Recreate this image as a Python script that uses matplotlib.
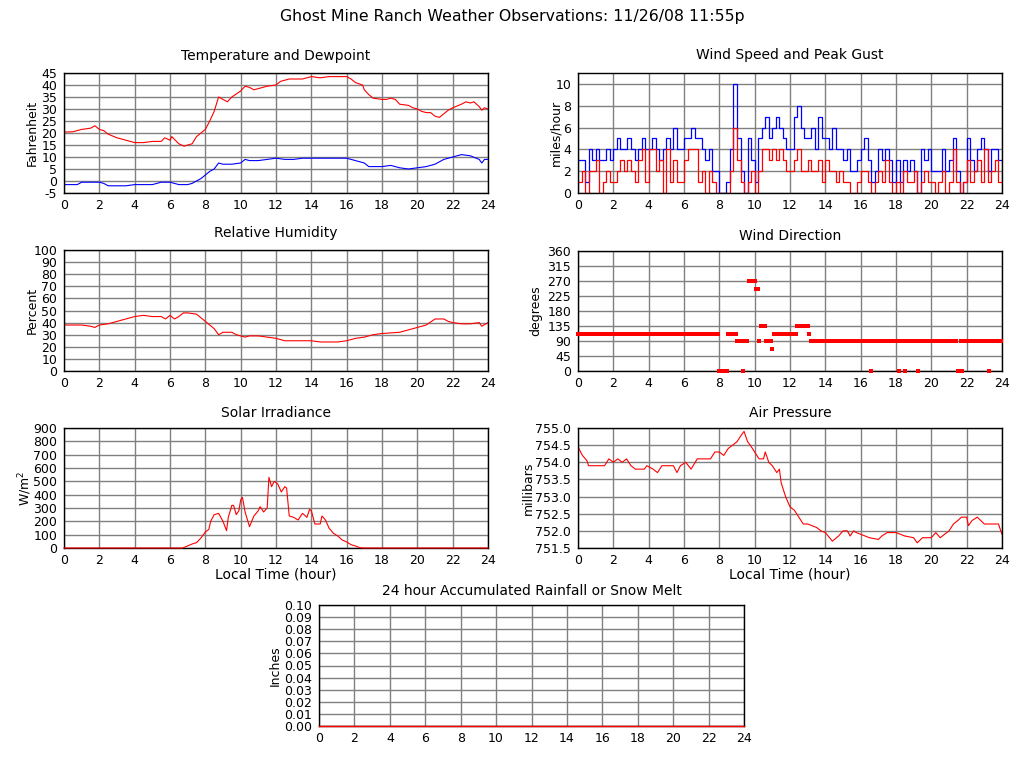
import matplotlib
matplotlib.use("Agg")
import matplotlib.pyplot as plt
import numpy as np

# --- values (hours 0-24) ---
temp_t = [0, 0.5, 1.0, 1.5, 1.75, 2.0, 2.25, 2.5, 3.0, 3.5, 4.0, 4.5, 5.0, 5.5, 5.7,
          6.0, 6.1, 6.5, 6.8, 7.0, 7.25, 7.5, 8.0, 8.25, 8.5, 8.75, 9.0, 9.25, 9.5, 10.0,
          10.25, 10.5, 10.75, 11.0, 11.5, 12.0, 12.25, 12.75, 13.0, 13.5, 14.0, 14.5, 15.0,
          15.5, 16.0, 16.25, 16.5, 16.9, 17.0, 17.25, 17.5, 18.0, 18.25, 18.5, 18.75, 19.0,
          19.5, 19.75, 20.0, 20.25, 20.5, 20.75, 21.0, 21.25, 21.5, 21.75, 22.0, 22.5, 22.75,
          23.0, 23.2, 23.5, 23.65, 23.8, 24.0]
temp_f = [20.4, 20.5, 21.5, 22, 23, 21.5, 21, 19.5, 18, 17, 16, 16, 16.5, 16.5, 18,
          17, 18.5, 15.5, 14.5, 15, 15.5, 18.5, 21.5, 25, 29, 35, 34, 33, 35, 37.5,
          39.5, 39, 38, 38.5, 39.5, 40, 41.5, 42.5, 42.5, 42.5, 43.5, 43, 43.5,
          43.5, 43.5, 42.5, 41, 40, 38, 36, 34.5, 34, 34, 34.5, 34, 32,
          31.5, 30.5, 30, 29, 28.5, 28.5, 27, 26.5, 28, 29.5, 30.5, 32, 33,
          32.5, 33, 31, 29.5, 30.5, 30]

dew_t = [0, 0.75, 1.0, 1.5, 2.0, 2.25, 2.5, 3.0, 3.5, 4.0, 4.5, 5.0, 5.5, 6.0, 6.25,
         6.5, 7.0, 7.25, 7.5, 7.75, 8.0, 8.25, 8.5, 8.75, 9.0, 9.5, 10.0, 10.25, 10.5,
         11.0, 11.5, 12.0, 12.5, 13.0, 13.5, 14.0, 15.0, 16.0, 16.5, 17.0, 17.25, 17.5,
         18.0, 18.5, 19.0, 19.5, 20.0, 20.5, 21.0, 21.5, 22.0, 22.5, 23.0, 23.5, 23.65,
         23.8, 24.0]
dew_f = [-1.5, -1.5, -0.5, -0.5, -0.5, -1, -2, -2, -2, -1.5, -1.5, -1.5, -0.5, -0.5, -1,
         -1.5, -1.5, -1, 0, 1, 2.5, 4, 5, 7.5, 7, 7, 7.5, 9, 8.5,
         8.5, 9, 9.5, 9, 9, 9.5, 9.5, 9.5, 9.5, 8.5, 7.5, 6, 6,
         6, 6.5, 5.5, 5, 5.5, 6, 7, 9, 10, 11, 10.5, 9, 7.5,
         9, 9]

# wind sampled every 0.2 h
wind_t = np.arange(0, 24.01, 0.2)
gust_mph = [3, 3, 1, 4, 3, 4, 3, 3, 4, 3,
            4, 5, 4, 4, 5, 4, 3, 4, 5, 4,
            4, 5, 4, 3, 4, 5, 4, 6, 4, 4,
            5, 5, 6, 5, 5, 4, 3, 4, 2, 2,
            0, 0, 1, 4, 10, 5, 2, 0, 5, 3,
            1, 5, 6, 7, 5, 6, 7, 6, 5, 4,
            4, 7, 8, 6, 5, 5, 6, 4, 7, 5,
            5, 4, 6, 4, 4, 3, 4, 2, 2, 3,
            4, 5, 3, 1, 2, 4, 3, 4, 3, 1,
            3, 1, 3, 2, 3, 2, 0, 4, 3, 4,
            2, 2, 2, 4, 2, 3, 5, 2, 0, 1,
            5, 3, 2, 4, 5, 4, 2, 4, 4, 3, 3]
speed_mph = [1, 2, 0, 2, 2, 3, 0, 1, 2, 1,
             1, 2, 3, 2, 3, 2, 1, 3, 4, 1,
             4, 4, 2, 3, 0, 4, 1, 3, 1, 1,
             3, 4, 4, 4, 1, 2, 0, 2, 1, 0,
             0, 0, 0, 2, 6, 3, 1, 0, 1, 2,
             0, 2, 4, 4, 3, 4, 3, 4, 3, 2,
             2, 3, 4, 2, 2, 3, 2, 2, 3, 1,
             3, 2, 2, 1, 2, 1, 1, 0, 0, 1,
             2, 2, 1, 0, 1, 2, 1, 3, 1, 0,
             1, 0, 2, 1, 1, 2, 0, 1, 2, 1,
             1, 0, 1, 2, 0, 1, 4, 1, 0, 1,
             3, 1, 2, 3, 1, 4, 1, 2, 3, 1, 2]

hum_t = [0, 1.0, 1.5, 1.75, 2.0, 2.5, 3.0, 3.5, 4.0, 4.5, 5.0, 5.5, 5.75, 6.0, 6.25,
         6.5, 6.75, 7.0, 7.5, 7.75, 8.0, 8.5, 8.75, 9.0, 9.5, 9.75, 10.0, 10.25, 10.5,
         11.0, 11.5, 12.0, 12.5, 13.0, 14.0, 14.5, 15.0, 15.5, 16.0, 16.5, 17.0, 17.5,
         18.0, 19.0, 19.5, 20.0, 20.5, 21.0, 21.5, 21.75, 22.0, 22.5, 23.0, 23.5, 23.65, 24.0]
hum_pct = [38, 38, 37, 36, 38, 39, 41, 43, 45, 46, 45, 45, 43, 46, 43,
           45, 48, 48, 47, 44, 41, 35, 30, 32, 32, 30, 29, 28, 29,
           29, 28, 27, 25, 25, 25, 24, 24, 24, 25, 27, 28, 30,
           31, 32, 34, 36, 38, 43, 43, 41, 40, 39, 39, 40, 37, 40]

# wind direction as runs of constant heading (start h, end h, degrees)
dir_start = [0.0, 8.0, 8.45, 8.7, 8.75, 9.0, 9.3, 9.35, 9.6, 9.65, 10.05, 10.25, 10.3,
             10.45, 10.5, 10.6, 10.95, 11.05, 12.4, 13.05, 13.15]
dir_end = [8.0, 8.45, 8.7, 8.75, 9.0, 9.3, 9.35, 9.6, 9.65, 10.05, 10.25, 10.3, 10.45,
           10.5, 10.6, 10.95, 11.05, 12.4, 13.05, 13.15, 24.0]
dir_deg = [112.5, 0, 112.5, 135, 112.5, 90, 0, 90, 247.5, 270, 247.5, 90, 135,
           112.5, 135, 90, 67.5, 112.5, 135, 112.5, 90]
dir_calm_hours = [16.58, 18.17, 18.5, 19.25, 21.5, 21.58, 21.75, 23.25]

sol_t = [0, 6.7, 6.9, 7.25, 7.5, 7.75, 8.0, 8.2, 8.3, 8.5, 8.75, 9.0, 9.2, 9.3, 9.5,
         9.6, 9.75, 9.9, 10.0, 10.1, 10.25, 10.5, 10.75, 11.0, 11.1, 11.3, 11.5, 11.6,
         11.75, 11.9, 12.1, 12.3, 12.5, 12.6, 12.75, 13.0, 13.25, 13.5, 13.75, 13.9,
         14.0, 14.2, 14.5, 14.6, 14.8, 15.0, 15.25, 15.5, 15.75, 16.0, 16.25, 16.5,
         16.75, 17.0, 24.0]
sol_w = [0, 0, 10, 30, 40, 75, 120, 140, 200, 250, 260, 200, 130, 230, 320,
         320, 250, 280, 360, 380, 270, 160, 240, 280, 310, 270, 300, 530,
         460, 500, 480, 420, 460, 450, 240, 230, 210, 260, 230, 290,
         280, 180, 180, 240, 210, 150, 110, 90, 60, 45, 25, 15,
         2, 0, 0]

pres_t = [0, 0.25, 0.5, 0.6, 1.0, 1.5, 1.75, 2.0, 2.25, 2.5, 2.75, 3.0, 3.25, 3.75, 3.9,
          4.25, 4.5, 4.75, 5.4, 5.6, 5.8, 6.1, 6.4, 6.75, 7.5, 7.75, 8.0, 8.25, 8.5, 8.75,
          9.0, 9.25, 9.4, 9.6, 9.75, 10.0, 10.25, 10.5, 10.6, 10.8, 11.0, 11.25, 11.4,
          11.5, 11.75, 12.0, 12.25, 12.5, 12.75, 13.0, 13.5, 13.75, 14.0, 14.4, 14.75,
          15.0, 15.25, 15.4, 15.6, 15.75, 16.0, 16.5, 17.0, 17.2, 17.5, 18.0, 18.5, 19.0,
          19.2, 19.5, 20.0, 20.25, 20.5, 20.75, 21.0, 21.25, 21.5, 21.7, 22.0, 22.1,
          22.3, 22.6, 22.8, 23.0, 23.8, 24.0]
pres_mb = [754.45, 754.2, 754.05, 753.9, 753.9, 753.9, 754.1, 754.0, 754.1, 754.0, 754.1,
           753.9, 753.8, 753.8, 753.9, 753.8, 753.7, 753.9, 753.9, 753.7, 753.9, 754.0,
           753.8, 754.1, 754.1, 754.3, 754.3, 754.2, 754.4, 754.5, 754.6, 754.8, 754.9,
           754.6, 754.5, 754.3, 754.1, 754.1, 754.3, 754.0, 753.9, 753.7, 753.8, 753.4,
           753.0, 752.7, 752.6, 752.4, 752.2, 752.2, 752.1, 752.0, 751.95, 751.7, 751.85,
           752.0, 752.0, 751.85, 752.0, 751.95, 751.9, 751.8, 751.75, 751.85, 751.95,
           751.95, 751.85, 751.8, 751.65, 751.8, 751.8, 751.95, 751.8, 751.9, 752.0,
           752.2, 752.3, 752.4, 752.4, 752.15, 752.3, 752.4, 752.3, 752.2, 752.2, 751.9]

rain_t = [0, 24]
rain_in = [0.0, 0.0]

hour_ticks = list(range(0, 25, 2))

# --- figure ---
W, H = 1024, 768
fig = plt.figure(figsize=(W / 100, H / 100), dpi=100)
plt.rcParams['font.family'] = 'DejaVu Sans'

TICK_FS = 9
TITLE_FS = 10
RED = '#ff0000'
BLUE = '#0000ff'


def panel(l, t, r, b, title, ylabel, label_x, yticks, ylim, fmt, title_base):
    ax = fig.add_axes([l / W, 1 - b / H, (r - l) / W, (b - t) / H])
    ax.set_xlim(0, 24)
    ax.set_ylim(*ylim)
    ax.set_xticks(hour_ticks)
    ax.set_yticks(yticks)
    ax.set_yticklabels([fmt.format(v) for v in yticks])
    ax.tick_params(length=0, labelsize=TICK_FS)
    ax.tick_params(axis='y', pad=5)
    ax.tick_params(axis='x', pad=4)
    ax.grid(True, color='#808080', linewidth=1.0)
    ax.set_axisbelow(True)
    for s in ax.spines.values():
        s.set_linewidth(1.0)
        s.set_color('black')
    fig.text((l + r) / 2 / W, 1 - title_base / H, title, ha='center', va='baseline',
             fontsize=TITLE_FS)
    fig.text(label_x / W, 1 - (t + b) / 2 / H, ylabel, rotation=90, ha='center',
             va='center', fontsize=9)
    return ax


fig.text(0.5, 1 - 17 / H, "Ghost Mine Ranch Weather Observations: 11/26/08 11:55p",
         ha='center', va='center', fontsize=11.3)

# Temperature and dewpoint
ax = panel(64, 73, 488, 193, "Temperature and Dewpoint", "Fahrenheit", 32,
           list(range(-5, 46, 5)), (-5, 45), "{:d}", 60)
ax.plot(temp_t, temp_f, color=RED, lw=0.8)
ax.plot(dew_t, dew_f, color=BLUE, lw=0.8)

# Wind speed and gust (stepped, as logged)
ax = panel(578, 73, 1002, 193, "Wind Speed and Peak Gust", "miles/hour", 556,
           list(range(0, 11, 2)), (0, 11), "{:d}", 59)
ax.plot(wind_t, gust_mph, color=BLUE, lw=0.9, drawstyle='steps-post')
ax.plot(wind_t, speed_mph, color=RED, lw=0.9, drawstyle='steps-post')

# Relative humidity
ax = panel(64, 250, 488, 371, "Relative Humidity", "Percent", 32,
           list(range(0, 101, 10)), (0, 100), "{:d}", 237)
ax.plot(hum_t, hum_pct, color=RED, lw=0.8)

# Wind direction (5-minute samples)
dir_t = np.arange(0, 24, 1 / 12)
dir_v = np.zeros_like(dir_t)
for s, e, v in zip(dir_start, dir_end, dir_deg):
    dir_v[(dir_t >= s - 1e-9) & (dir_t < e - 1e-9)] = v
for h in dir_calm_hours:
    dir_v[np.argmin(np.abs(dir_t - h))] = 0
ax = panel(578, 251, 1002, 371, "Wind Direction", "degrees", 536,
           list(range(0, 361, 45)), (0, 360), "{:d}", 240)
ax.plot(dir_t, dir_v, linestyle='none', marker='s', ms=2.6, mew=0, color=RED,
        clip_on=False, zorder=3)

# Solar irradiance
ax = panel(64, 428, 488, 548, "Solar Irradiance", "W/m$^2$", 25,
           list(range(0, 901, 100)), (0, 900), "{:d}", 417)
ax.plot(sol_t, sol_w, color=RED, lw=0.8, clip_on=False, zorder=3)
ax.set_xlabel("Local Time (hour)", fontsize=TITLE_FS, labelpad=1)

# Air pressure
pres_ticks = [751.5, 752.0, 752.5, 753.0, 753.5, 754.0, 754.5, 755.0]
ax = panel(578, 428, 1002, 548, "Air Pressure", "millibars", 528,
           pres_ticks, (751.5, 755.0), "{:.1f}", 417)
ax.plot(pres_t, pres_mb, color=RED, lw=0.8)
ax.set_xlabel("Local Time (hour)", fontsize=TITLE_FS, labelpad=1)

# Rainfall
rain_ticks = [round(0.01 * i, 2) for i in range(11)]
ax = panel(319, 605, 744, 726, "24 hour Accumulated Rainfall or Snow Melt", "Inches", 275,
           rain_ticks, (0, 0.1), "{:.2f}", 595)
ax.plot(rain_t, rain_in, color=RED, lw=1.0, clip_on=False, zorder=3)

fig.savefig("out.png", dpi=100)
